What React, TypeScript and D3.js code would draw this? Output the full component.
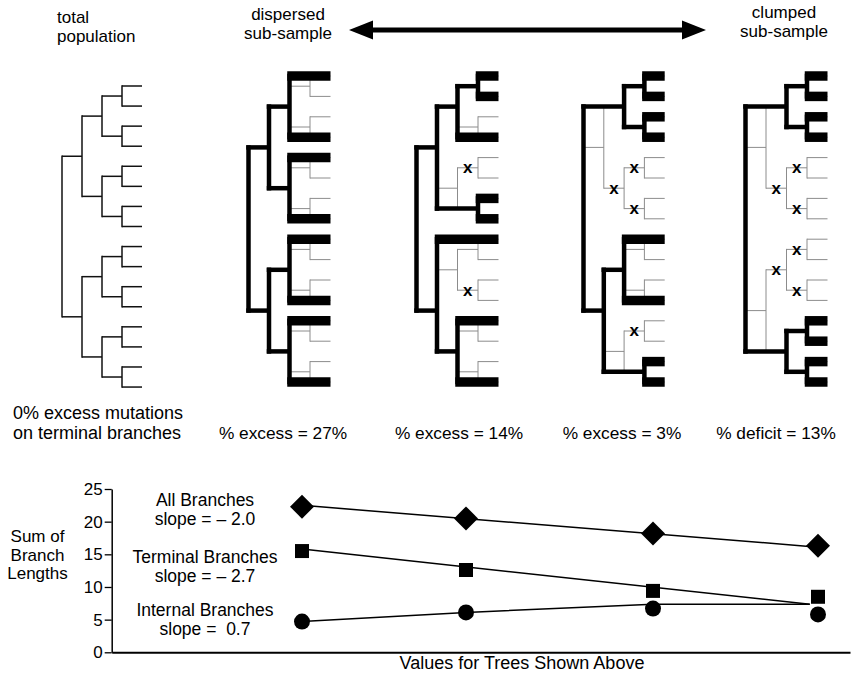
import React, { useEffect, useRef } from 'react';
import * as d3 from 'd3';

interface TreeNode {
  leaf?: number;
  children?: TreeNode[];
}

// 16 leaf balanced tree, the same topology in all five panels
const leafCount = 16;

// leaves kept in each sub-sample (first panel = whole population, nothing highlighted)
const sampledLeaves: number[][] = [
  [],
  [0, 3, 4, 7, 8, 11, 12, 15],
  [0, 1, 3, 6, 7, 8, 12, 15],
  [0, 1, 2, 3, 8, 11, 14, 15],
  [0, 1, 2, 3, 12, 13, 14, 15],
];

const treeLabels = ['% excess = 27%', '% excess = 14%', '% excess = 3%', '% deficit = 13%'];

// bottom chart
const treeIndex = [0, 1, 2, 3];
const allBranches = [22.3, 20.5, 18.2, 16.3];
const terminalBranches = [15.5, 12.6, 9.4, 8.5];
const internalBranches = [4.7, 6.1, 6.7, 5.8];
const allFitX = [0, 3];
const allFit = [22.5, 16.1];
const terminalFitX = [0, 2.95];
const terminalFit = [15.8, 7.35];
const internalFitX = [0, 1, 2, 2.95];
const internalFit = [4.7, 6.1, 7.35, 7.35];
const yTicks = [0, 5, 10, 15, 20, 25];

const seriesLabels = [
  ['All Branches', 'slope = \u2013 2.0'],
  ['Terminal Branches', 'slope = \u2013 2.7'],
  ['Internal Branches', 'slope =  0.7'],
];

function buildTree(lo: number, hi: number): TreeNode {
  if (hi - lo === 1) return { leaf: lo };
  const mid = (lo + hi) / 2;
  return { children: [buildTree(lo, mid), buildTree(mid, hi)] };
}

const App: React.FC = () => {
  const width = 856;
  const height = 677;
  const svgRef = useRef<SVGSVGElement>(null);

  useEffect(() => {
    if (!svgRef.current) return;
    const svg = d3.select(svgRef.current);
    svg.selectAll('*').remove();
    const font = '"Liberation Sans", Arial, Helvetica, sans-serif';

    const layouts = [
      { left: 62, top: 86, leafStep: 20.07, levelStep: 20 },
      { left: 248.5, top: 76, leafStep: 20.4, levelStep: 20.5 },
      { left: 416.5, top: 76, leafStep: 20.4, levelStep: 20.5 },
      { left: 583.5, top: 76, leafStep: 20.4, levelStep: 20.3 },
      { left: 745.5, top: 76, leafStep: 20.4, levelStep: 20.5 },
    ];

    layouts.forEach((cfg, ti) => {
      const root = d3.hierarchy<TreeNode>(buildTree(0, leafCount));
      d3.cluster<TreeNode>().nodeSize([cfg.leafStep, cfg.levelStep]).separation(() => 1)(root);
      const leaves = root.leaves();
      const x0 = leaves[0].x as number;
      const V = (n: d3.HierarchyNode<TreeNode>) => cfg.top + ((n as any).x - x0);
      const H = (n: d3.HierarchyNode<TreeNode>) => cfg.left + (n as any).y;

      const sampled = new Set(sampledLeaves[ti]);
      const count = new Map<d3.HierarchyNode<TreeNode>, number>();
      root.eachAfter(n => {
        if (!n.children) count.set(n, sampled.has(n.data.leaf as number) ? 1 : 0);
        else count.set(n, d3.sum(n.children, c => count.get(c) as number));
      });

      const g = svg.append('g');
      const thin = ti === 0 ? { c: '#111', w: 1.5 } : { c: '#8c8c8c', w: 1 };

      root.each(n => {
        if (!n.children) return;
        const [a, b] = n.children;
        g.append('line')
          .attr('x1', H(n)).attr('x2', H(n))
          .attr('y1', V(a)).attr('y2', V(b))
          .attr('stroke', thin.c).attr('stroke-width', thin.w).attr('stroke-linecap', 'square');
        n.children.forEach(c => {
          g.append('line')
            .attr('x1', H(n)).attr('x2', H(c))
            .attr('y1', V(c)).attr('y2', V(c))
            .attr('stroke', thin.c).attr('stroke-width', thin.w);
        });
      });

      if (ti === 0) return;

      const cnt = (n: d3.HierarchyNode<TreeNode>) => count.get(n) as number;
      const eff = (n: d3.HierarchyNode<TreeNode>): d3.HierarchyNode<TreeNode> => {
        if (!n.children) return n;
        if (cnt(n.children[0]) > 0 && cnt(n.children[1]) > 0) return n;
        return eff(n.children.find(c => cnt(c) > 0) as d3.HierarchyNode<TreeNode>);
      };

      const thickW = 4.5;
      const barW = 9.5;
      const drawThick = (E: d3.HierarchyNode<TreeNode>) => {
        if (!E.children) return;
        const kids = E.children.map(eff);
        g.append('line')
          .attr('x1', H(E)).attr('x2', H(E))
          .attr('y1', V(kids[0]) - thickW / 2).attr('y2', V(kids[1]) + thickW / 2)
          .attr('stroke', '#000').attr('stroke-width', thickW);
        kids.forEach(k => {
          g.append('line')
            .attr('x1', H(E) - thickW / 2).attr('x2', H(k))
            .attr('y1', V(k)).attr('y2', V(k))
            .attr('stroke', '#000').attr('stroke-width', k.children ? thickW : barW);
          drawThick(k);
        });
      };
      drawThick(eff(root));

      // x marks on internal branches with no sampled descendants
      root.descendants()
        .filter(n => n.parent && n.children && cnt(n) === 0)
        .forEach(n => {
          g.append('text')
            .attr('x', (H(n.parent as d3.HierarchyNode<TreeNode>) + H(n)) / 2)
            .attr('y', V(n))
            .attr('dy', '0.32em')
            .attr('text-anchor', 'middle')
            .attr('font-family', font)
            .attr('font-size', 17)
            .attr('font-weight', 'bold')
            .text('x');
        });
    });

    const text = (x: number, y: number, s: string, anchor = 'middle', size = 17) =>
      svg.append('text')
        .attr('x', x).attr('y', y)
        .attr('text-anchor', anchor)
        .attr('font-family', font)
        .attr('font-size', size)
        .attr('fill', '#000')
        .style('white-space', 'pre')
        .text(s);

    // header
    text(57, 23, 'total', 'start');
    text(57, 41.5, 'population', 'start');
    text(288, 20, 'dispersed');
    text(288, 38.5, 'sub-sample');
    text(784, 18, 'clumped');
    text(784, 36.5, 'sub-sample');

    const arrowY = 30;
    svg.append('line')
      .attr('x1', 370).attr('x2', 685)
      .attr('y1', arrowY).attr('y2', arrowY)
      .attr('stroke', '#000').attr('stroke-width', 5);
    svg.append('path')
      .attr('d', `M349,${arrowY} L373,${arrowY - 9.5} L373,${arrowY + 9.5} Z`)
      .attr('fill', '#000');
    svg.append('path')
      .attr('d', `M706,${arrowY} L682,${arrowY - 9.5} L682,${arrowY + 9.5} Z`)
      .attr('fill', '#000');

    // tree captions
    text(13, 419, '0% excess mutations', 'start', 18);
    text(13, 438.5, 'on terminal branches', 'start', 18);
    const captionX = [283, 459, 622, 776];
    treeLabels.forEach((s, i) => text(captionX[i], 438.5, s, 'middle', 17.3));

    // ----- bottom chart -----
    const axisX = 111.7;
    // the four trees are not evenly spaced along the x axis
    const x = d3.scaleLinear().domain(treeIndex).range([302, 466, 653, 818]);
    const y = d3.scaleLinear().domain([0, 25]).range([652.3, 489]);

    const yAxis = svg.append('g')
      .attr('transform', `translate(${axisX},0)`)
      .call(d3.axisLeft(y).tickValues(yTicks).tickSize(7).tickSizeOuter(0).tickPadding(2));
    yAxis.selectAll('text').attr('font-size', 17).attr('font-family', font).attr('fill', '#000');
    yAxis.selectAll('line').attr('stroke', '#000').attr('stroke-width', 1.3);
    yAxis.select('.domain').attr('stroke', '#000').attr('stroke-width', 1.5);

    const xAxis = svg.append('g')
      .attr('transform', `translate(0,${y(0)})`)
      .call(d3.axisBottom(d3.scaleLinear().range([axisX, 850])).tickValues([]).tickSizeOuter(0));
    xAxis.select('.domain').attr('stroke', '#000').attr('stroke-width', 2);

    const line = d3.line<[number, number]>().x(d => x(d[0])).y(d => y(d[1]));
    const fits: [number[], number[]][] = [
      [allFitX, allFit],
      [terminalFitX, terminalFit],
      [internalFitX, internalFit],
    ];
    fits.forEach(([xs, vs]) => {
      svg.append('path')
        .attr('d', line(xs.map((v, i) => [v, vs[i]] as [number, number])))
        .attr('fill', 'none')
        .attr('stroke', '#000')
        .attr('stroke-width', 1.5);
    });

    const markers = [
      { data: allBranches, type: d3.symbolSquare, size: 288, rotate: 45 },
      { data: terminalBranches, type: d3.symbolSquare, size: 196, rotate: 0 },
      { data: internalBranches, type: d3.symbolCircle, size: 201, rotate: 0 },
    ];
    markers.forEach(m => {
      svg.append('g')
        .selectAll('path')
        .data(m.data)
        .join('path')
        .attr('d', d3.symbol().type(m.type).size(m.size)())
        .attr('transform', (d, i) => `translate(${x(treeIndex[i])},${y(d)}) rotate(${m.rotate})`)
        .attr('fill', '#000');
    });

    const labelY = [[505.5, 524.5], [562.5, 581.5], [615.5, 634.5]];
    seriesLabels.forEach((ls, i) => {
      text(205, labelY[i][0], ls[0], 'middle', 17.5);
      text(205, labelY[i][1], ls[1], 'middle', 17.5);
    });

    text(37.5, 542, 'Sum of', 'middle', 17);
    text(37.5, 560.5, 'Branch', 'middle', 17);
    text(37.5, 579, 'Lengths', 'middle', 17);

    text(522, 669, 'Values for Trees Shown Above', 'middle', 18);
  }, []);

  return (
    <svg
      ref={svgRef}
      width={width}
      height={height}
      style={{ position: 'absolute', left: 0, top: 0, background: '#fff' }}
    />
  );
};

export default App;
